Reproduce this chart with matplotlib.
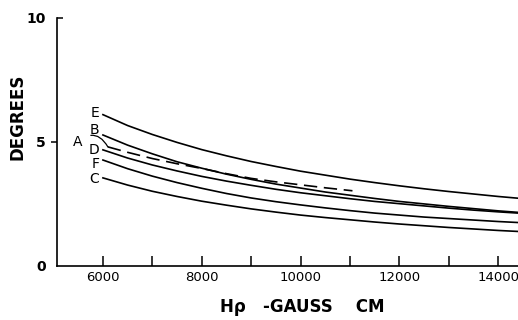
import matplotlib.pyplot as plt
import matplotlib.lines as mlines

# Valeurs (Hrho en gauss.cm, angle en degres)
H = [6000, 6500, 7000, 7500, 8000, 8500, 9000, 9500, 10000,
     10500, 11000, 11500, 12000, 12500, 13000, 13500, 14000, 14400]
curve_E = [6.10, 5.66, 5.30, 4.98, 4.69, 4.44, 4.21, 4.01, 3.82,
           3.66, 3.50, 3.36, 3.23, 3.11, 3.00, 2.90, 2.80, 2.73]
curve_B = [5.28, 4.87, 4.52, 4.20, 3.94, 3.70, 3.49, 3.30, 3.14,
           2.98, 2.85, 2.72, 2.60, 2.50, 2.40, 2.31, 2.22, 2.16]
curve_D = [4.68, 4.35, 4.07, 3.83, 3.61, 3.42, 3.25, 3.09, 2.95,
           2.83, 2.71, 2.60, 2.51, 2.42, 2.33, 2.25, 2.18, 2.13]
curve_F = [4.27, 3.92, 3.62, 3.36, 3.13, 2.92, 2.74, 2.59, 2.46,
           2.34, 2.23, 2.13, 2.05, 1.97, 1.91, 1.85, 1.79, 1.75]
curve_C = [3.55, 3.26, 3.01, 2.80, 2.61, 2.45, 2.30, 2.17, 2.05,
           1.95, 1.86, 1.77, 1.69, 1.62, 1.55, 1.49, 1.43, 1.39]

# courbe A (tiretes), plus courte
H_A = [6100, 6500, 7000, 7500, 8000, 8500, 9000, 9500, 10000, 10500, 11050]
curve_A = [4.80, 4.58, 4.33, 4.12, 3.93, 3.72, 3.53, 3.39, 3.27, 3.15, 3.03]

x_ticks = [6000, 8000, 10000, 12000, 14000]
x_minor = [7000, 9000, 11000, 13000]
y_ticks = [0, 5, 10]

fig = plt.figure(figsize=(5.18, 3.2), dpi=100)
ax = fig.add_axes([0.110, 0.169, 0.890, 0.775])

for vals in [curve_E, curve_B, curve_D, curve_F, curve_C]:
    ax.plot(H, vals, color='black', lw=1.2)
ax.plot(H_A, curve_A, color='black', lw=1.2, dashes=(8, 4))

# etiquettes des courbes (position verticale de chaque lettre)
label_y = {'E': 6.17, 'B': 5.48, 'D': 4.68, 'F': 4.12, 'C': 3.51}
for name, yy in label_y.items():
    ax.text(5930, yy, name, ha='right', va='center', fontsize=10, color='black')

ax.annotate('A', xy=(H_A[0], curve_A[0]), xytext=(5495, 5.0),
            ha='center', va='center', fontsize=10,
            arrowprops=dict(arrowstyle='-', lw=0.9, color='black',
                            connectionstyle='arc3,rad=-0.6',
                            shrinkA=4, shrinkB=0))

ax.set_xlim(5070, 14400)
ax.set_ylim(0, 10)
ax.spines['top'].set_visible(False)
ax.spines['right'].set_visible(False)
ax.spines['left'].set_linewidth(1.2)
ax.spines['bottom'].set_linewidth(1.2)

ax.set_xticks(x_ticks)
ax.set_xticks(x_minor, minor=True)
ax.set_xticklabels([str(v) for v in x_ticks], fontsize=9.5)
ax.tick_params(axis='x', which='both', direction='in', length=7, width=1.1, pad=4)

ax.set_yticks(y_ticks)
ax.set_yticklabels([str(v) for v in y_ticks], fontsize=10, fontweight='bold')
ax.tick_params(axis='y', direction='out', length=4, width=1.1, pad=4)
yt = ax.yaxis.get_major_ticks()
yt[0].tick1line.set_visible(False)
yt[2].tick1line.set_marker(mlines.TICKRIGHT)

fig.text(18 / 518, 1 - 117 / 320, 'DEGREES', rotation=90, ha='center', va='center',
         fontsize=12, fontweight='bold')
fig.text(302 / 518, 1 - 307 / 320, 'H\u03c1   -GAUSS    CM', ha='center', va='center',
         fontsize=12, fontweight='bold')

plt.savefig('out.png', dpi=100)
